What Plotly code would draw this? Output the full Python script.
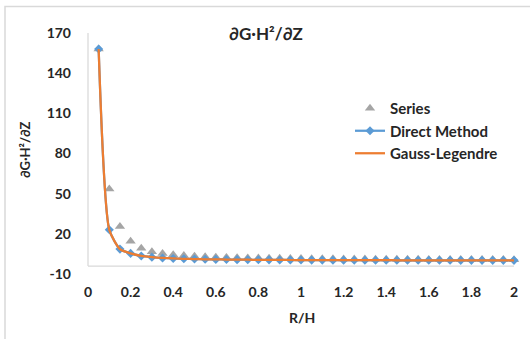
import plotly.graph_objects as go

# R/H sample positions
r_over_h = [0.05, 0.10, 0.15, 0.20, 0.25, 0.30, 0.35, 0.40, 0.45, 0.50,
            0.55, 0.60, 0.65, 0.70, 0.75, 0.80, 0.85, 0.90, 0.95, 1.00,
            1.05, 1.10, 1.15, 1.20, 1.25, 1.30, 1.35, 1.40, 1.45, 1.50,
            1.55, 1.60, 1.65, 1.70, 1.75, 1.80, 1.85, 1.90, 1.95, 2.00]

series_vals = [158.0, 53.5, 25.5, 14.5, 9.3, 6.7, 5.3, 4.4, 3.8, 3.3,
               2.9, 2.6, 2.4, 2.2, 2.0, 1.9, 1.8, 1.7, 1.6, 1.5,
               1.4, 1.35, 1.3, 1.25, 1.2, 1.15, 1.1, 1.05, 1.0, 1.0,
               0.95, 0.9, 0.9, 0.85, 0.85, 0.8, 0.8, 0.75, 0.75, 0.7]

direct_vals = [158.0, 23.0, 8.6, 5.4, 3.5, 2.6, 2.0, 1.6, 1.35, 1.15,
               1.0, 0.9, 0.8, 0.72, 0.65, 0.6, 0.55, 0.5, 0.46, 0.43,
               0.4, 0.38, 0.36, 0.34, 0.32, 0.3, 0.29, 0.28, 0.27, 0.26,
               0.25, 0.24, 0.23, 0.22, 0.21, 0.2, 0.2, 0.19, 0.18, 0.18]

gauss_vals = [158.0, 23.0, 8.6, 5.4, 3.5, 2.6, 2.0, 1.6, 1.35, 1.15,
              1.0, 0.9, 0.8, 0.72, 0.65, 0.6, 0.55, 0.5, 0.46, 0.43,
              0.4, 0.38, 0.36, 0.34, 0.32, 0.3, 0.29, 0.28, 0.27, 0.26,
              0.25, 0.24, 0.23, 0.22, 0.21, 0.2, 0.2, 0.19, 0.18, 0.18]

x_ticks = [0, 0.2, 0.4, 0.6, 0.8, 1, 1.2, 1.4, 1.6, 1.8, 2]
y_ticks = [-10, 20, 50, 80, 110, 140, 170]

W, H = 530, 339
L, R, T, B = 88, 16, 33, 65
PW, PH = W - L - R, H - T - B

def px(x):
    return (x - L) / PW

def py(y):
    return (H - B - y) / PH

FONT = "Lato"
TXT = "#262626"
AXIS = "#D9D9D9"

fig = go.Figure()

fig.add_trace(go.Scatter(
    x=r_over_h, y=series_vals, name="<b>Series</b>", mode="markers",
    marker=dict(symbol="triangle-up", size=9, color="#A5A5A5"),
    cliponaxis=False,
))
fig.add_trace(go.Scatter(
    x=r_over_h, y=direct_vals, name="<b>Direct Method</b>", mode="lines+markers",
    line=dict(color="#5B9BD5", width=2.25, shape="spline", smoothing=0.6),
    marker=dict(symbol="diamond", size=7, color="#5B9BD5"),
    cliponaxis=False,
))
fig.add_trace(go.Scatter(
    x=r_over_h, y=gauss_vals, name="<b>Gauss-Legendre</b>", mode="lines",
    line=dict(color="#ED7D31", width=2.25, shape="spline", smoothing=0.6),
    cliponaxis=False,
))

shapes = [
    # outer chart frame
    dict(type="rect", xref="paper", yref="paper",
         x0=px(5), x1=px(540), y0=py(6.5), y1=py(350),
         line=dict(color=AXIS, width=1.5), layer="below"),
    # value axis line
    dict(type="line", xref="paper", yref="paper",
         x0=0, x1=0, y0=py(266), y1=1,
         line=dict(color=AXIS, width=1.25), layer="below"),
    # category axis line
    dict(type="line", xref="paper", yref="paper",
         x0=0, x1=1, y0=py(266), y1=py(266),
         line=dict(color=AXIS, width=1.25), layer="below"),
]

annotations = [
    dict(text="<b>∂G·H²/∂Z</b>", xref="paper", yref="paper",
         x=px(266), y=py(33), showarrow=False,
         font=dict(family=FONT, size=17, color=TXT),
         xanchor="center", yanchor="middle"),
    dict(text="<b>∂G·H²/∂Z</b>", xref="paper", yref="paper",
         x=px(25), y=py(150), showarrow=False, textangle=-90,
         font=dict(family=FONT, size=13, color=TXT),
         xanchor="center", yanchor="middle"),
    dict(text="<b>R/H</b>", xref="paper", yref="paper",
         x=px(302), y=py(317), showarrow=False,
         font=dict(family=FONT, size=14, color=TXT),
         xanchor="center", yanchor="middle"),
]

fig.update_layout(
    width=W, height=H,
    margin=dict(l=L, r=R, t=T, b=B, autoexpand=False),
    paper_bgcolor="white", plot_bgcolor="white",
    font=dict(family=FONT, size=14, color=TXT),
    showlegend=True,
    legend=dict(
        x=px(350), y=py(92), xanchor="left", yanchor="top",
        bgcolor="rgba(0,0,0,0)", font=dict(family=FONT, size=15, color=TXT),
        tracegroupgap=0, itemwidth=30,
    ),
    xaxis=dict(
        range=[0, 2], tickvals=x_ticks, ticktext=[f"<b>{v:g}</b>" for v in x_ticks],
        showgrid=False, zeroline=False, showline=False, ticks="",
        ticklabelstandoff=8, fixedrange=True,
    ),
    yaxis=dict(
        range=[-10, 170], tickvals=y_ticks, ticktext=[f"<b>{v}</b>" for v in y_ticks],
        showgrid=False, zeroline=False, showline=False, ticks="",
        ticklabelstandoff=16, fixedrange=True,
    ),
    shapes=shapes,
    annotations=annotations,
)

fig.write_html("out.html")
